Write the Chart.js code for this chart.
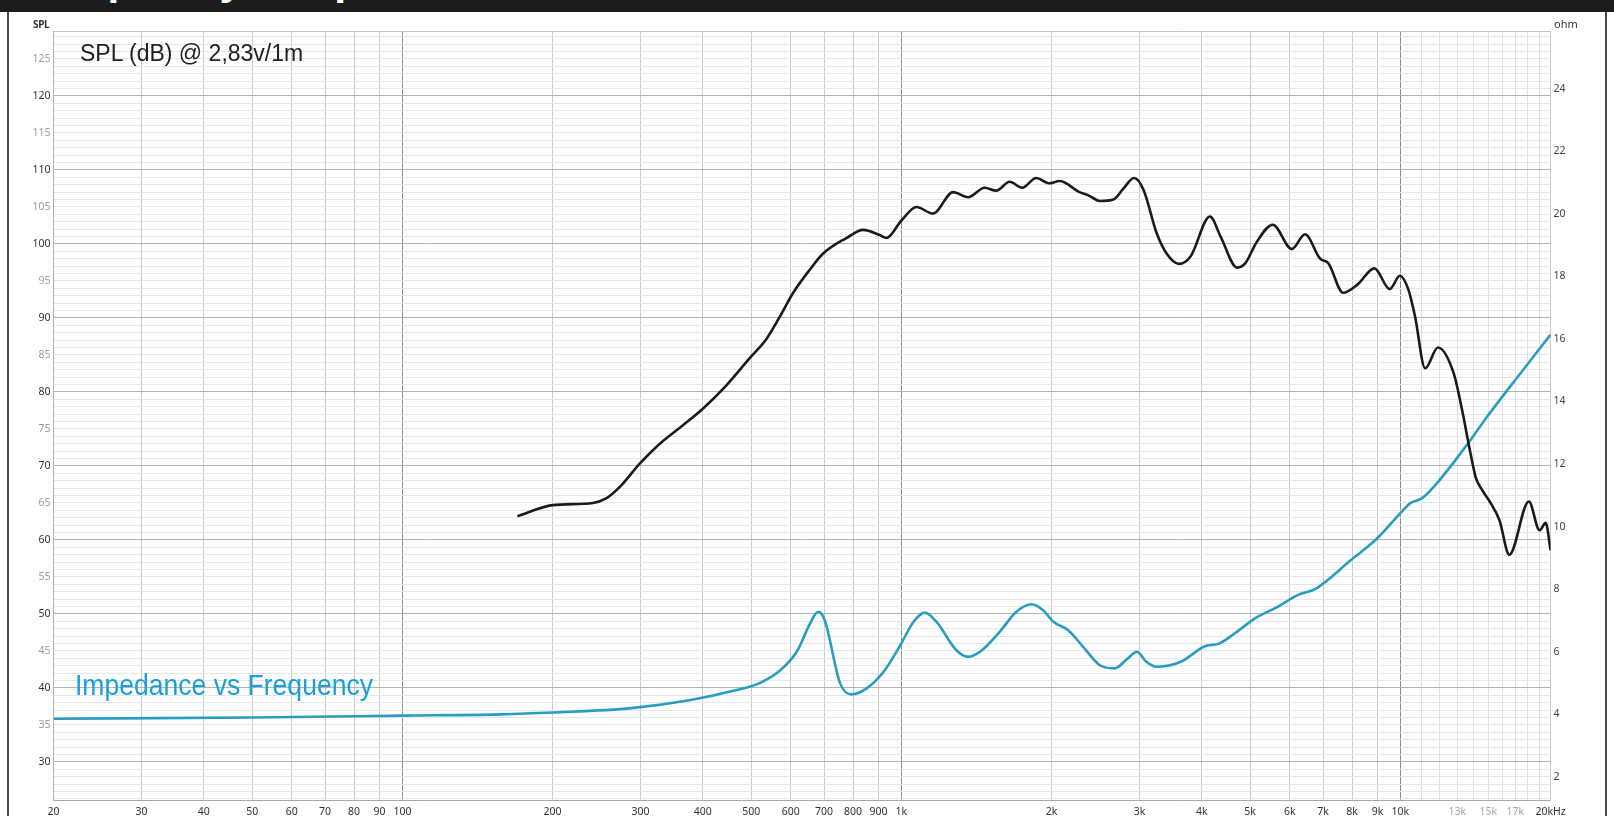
<!DOCTYPE html>
<html>
<head>
<meta charset="utf-8">
<script src="https://cdn.jsdelivr.net/npm/chart.js@4.4.1/dist/chart.umd.min.js"></script>
<style>
html, body { margin: 0; padding: 0; background: #fff; }
#wrap { position: relative; width: 1614px; height: 816px; overflow: hidden; }
#hdr { position: absolute; left: 0; top: 0; width: 1614px; height: 12px; background: #1c1c1c; overflow: hidden; }
#hdr span { position: absolute; left: 26px; top: -42px; font: bold 43px "Liberation Sans", Arial, sans-serif; line-height: 43px; color: #fff; white-space: nowrap; }
.edge { position: absolute; top: 12px; bottom: 0; width: 2px; background: #4a4a4a; }
canvas { position: absolute; left: 0; top: 0; }
.lbl { position: absolute; white-space: nowrap; line-height: 1; }
</style>
</head>
<body>
<div id="wrap">
  <canvas id="freqChart" width="1614" height="816"></canvas>
  <div id="hdr"><span>Frequency Response</span></div>
  <div class="edge" style="left:7px"></div>
  <div class="edge" style="left:1605px"></div>
  <div class="lbl" style="left:33px;top:17px;font:bold 10px 'Noto Sans';color:#333;letter-spacing:-0.3px">SPL</div>
  <div class="lbl" style="left:1554px;top:16px;font:11px 'Noto Sans';color:#333">ohm</div>
  <div class="lbl" style="left:80px;top:40px;font:23px 'Liberation Sans';color:#1e1e1e">SPL (dB) @ 2,83v/1m</div>
  <div class="lbl" style="left:75px;top:669px;font:29px 'Liberation Sans';color:#1a9fd9;transform:scaleX(0.915);transform-origin:0 0">Impedance vs Frequency</div>
</div>
<script>
// SPL (black) curve, left axis dB
var freqSpl = [170, 200, 241, 256, 273, 299, 328, 365, 401, 446, 497, 537, 571, 607, 655, 697, 776, 838, 905, 933,
  1001, 1072, 1157, 1269, 1360, 1469, 1549, 1648, 1746, 1863, 1976, 2075, 2275, 2365, 2500, 2660, 2787, 2926, 3057, 3250,
  3400, 3598, 3797, 4153, 4362, 4708, 4890, 5157, 5549, 6060, 6440, 6905, 7170, 7680, 8200, 8870, 9520, 9980, 10380, 10700,
  11210, 11890, 12790, 13290, 13820, 14150, 14600, 15190, 15790, 16530, 18090, 19010, 19550, 20000];
var spl = [63.2, 64.7, 65.0, 65.6, 67.2, 70.3, 73.0, 75.5, 77.8, 80.9, 84.6, 87.2, 90.2, 93.4, 96.5, 98.7, 100.8, 101.9, 101.2, 100.8,
  103.2, 105.0, 104.1, 107.0, 106.3, 107.6, 107.2, 108.4, 107.6, 108.9, 108.2, 108.5, 107.0, 106.6, 105.8, 106.0, 107.5, 108.9, 107.3, 101.4,
  98.7, 97.3, 98.3, 103.7, 101.0, 96.8, 97.4, 100.3, 102.6, 99.3, 101.3, 98.0, 97.4, 93.4, 94.5, 96.7, 93.9, 95.7, 93.8, 90.2,
  83.2, 86.0, 82.5, 77.6, 71.7, 68.5, 66.7, 64.9, 62.7, 58.0, 65.2, 61.3, 62.3, 58.6];

// impedance (blue) curve, right axis ohm
var freqImp = [20, 50, 100, 157, 200, 288, 376, 463, 520, 571, 617, 656, 681, 702, 754, 795, 852, 921, 995, 1058,
  1114, 1175, 1289, 1360, 1437, 1574, 1700, 1823, 1923, 2016, 2160, 2313, 2500, 2675, 2843, 2965, 3097, 3246, 3630, 4047,
  4345, 4667, 5140, 5650, 6220, 6790, 7960, 8990, 10000, 10470, 11050, 11840, 13600, 14930, 17440, 20000];
var imp = [3.86, 3.9, 3.96, 4.0, 4.06, 4.2, 4.45, 4.76, 5.0, 5.4, 6.0, 6.9, 7.28, 7.01, 4.99, 4.64, 4.83, 5.36, 6.21, 6.96,
  7.25, 6.96, 6.05, 5.84, 6.0, 6.64, 7.28, 7.52, 7.33, 6.96, 6.69, 6.16, 5.57, 5.47, 5.79, 6.0, 5.68, 5.52, 5.68, 6.17,
  6.27, 6.6, 7.09, 7.42, 7.81, 8.03, 8.93, 9.63, 10.43, 10.75, 10.91, 11.39, 12.62, 13.52, 14.92, 16.14];

// axes
var xTickValues = [20, 30, 40, 50, 60, 70, 80, 90, 100, 200, 300, 400, 500, 600, 700, 800, 900,
  1000, 2000, 3000, 4000, 5000, 6000, 7000, 8000, 9000, 10000,
  11000, 12000, 13000, 14000, 15000, 16000, 17000, 18000, 19000, 20000];
var xTickText = ["20", "30", "40", "50", "60", "70", "80", "90", "100", "200", "300", "400", "500", "600", "700", "800", "900",
  "1k", "2k", "3k", "4k", "5k", "6k", "7k", "8k", "9k", "10k",
  "", "", "13k", "", "15k", "", "17k", "", "", "20kHz"];
var splTicks = [30, 35, 40, 45, 50, 55, 60, 65, 70, 75, 80, 85, 90, 95, 100, 105, 110, 115, 120, 125];
var ohmTicks = [2, 4, 6, 8, 10, 12, 14, 16, 18, 20, 22, 24];

var splMin = 24.76, splMax = 128.68;
var ohmMin = 1.24, ohmMax = 25.82;

function toPoints(xs, ys) {
  return xs.map(function(f, i) { return {x: f, y: ys[i]}; });
}

var tickFont = {family: "Noto Sans", size: 10.5};

var ctx = document.getElementById("freqChart").getContext("2d");
var chart = new Chart(ctx, {
  type: "line",
  data: {
    datasets: [{
      label: "SPL",
      data: toPoints(freqSpl, spl),
      yAxisID: "y",
      borderColor: "#1b1b1b",
      borderWidth: 2.6,
      pointRadius: 0,
      cubicInterpolationMode: "monotone",
      fill: false
    }, {
      label: "Impedance",
      data: toPoints(freqImp, imp),
      yAxisID: "y1",
      borderColor: "#2a9cc2",
      borderWidth: 2.6,
      pointRadius: 0,
      cubicInterpolationMode: "monotone",
      fill: false
    }]
  },
  options: {
    responsive: false,
    animation: false,
    devicePixelRatio: 1,
    layout: {padding: {top: 31.7, left: 0, right: 0, bottom: 0}},
    plugins: {legend: {display: false}, tooltip: {enabled: false}},
    scales: {
      x: {
        type: "logarithmic",
        min: 20,
        max: 20000,
        afterBuildTicks: function(s) { s.ticks = xTickValues.map(function(v) { return {value: v}; }); },
        afterFit: function(s) { s.height = 15.3; },
        ticks: {
          autoSkip: false, maxRotation: 0, padding: 5, font: tickFont,
          callback: function(v) { return xTickText[xTickValues.indexOf(v)]; },
          color: function(c) {
            var v = c.tick.value;
            return (v == 13000 || v == 15000 || v == 17000) ? "#a8a8a8" : "#333";
          }
        },
        grid: {
          drawTicks: false,
          color: function(c) {
            var v = c.tick.value;
            if (v == 100 || v == 1000 || v == 10000) return "#8c8c8c";
            if (v > 10000 && v < 20000) return "#e0e0e0";
            return "#cacaca";
          }
        },
        border: {color: "#a8a8a8"}
      },
      y: {
        position: "left",
        min: splMin,
        max: splMax,
        afterBuildTicks: function(s) {
          var t = [];
          for (var v = 25; v <= 128; v++) t.push({value: v});
          t.push({value: splMax});
          s.ticks = t;
        },
        afterFit: function(s) { s.width = 53.6; },
        ticks: {
          autoSkip: false, padding: 3, font: tickFont,
          callback: function(v) { return splTicks.indexOf(v) >= 0 ? String(v) : ""; },
          color: function(c) { return c.tick.value % 10 == 0 ? "#333" : "#9c9c9c"; }
        },
        grid: {
          drawTicks: false,
          color: function(c) {
            var v = c.tick.value;
            if (v == splMax) return "#c4c4c4";
            return v % 10 == 0 ? "#b4b4b4" : "#e6e6e6";
          }
        },
        border: {color: "#b0b0b0"}
      },
      y1: {
        position: "right",
        min: ohmMin,
        max: ohmMax,
        afterBuildTicks: function(s) { s.ticks = ohmTicks.map(function(v) { return {value: v}; }); },
        afterFit: function(s) { s.width = 63.4; },
        ticks: {autoSkip: false, padding: 3, font: tickFont, color: "#444"},
        grid: {display: false, drawTicks: false},
        border: {color: "#cacaca"}
      }
    }
  }
});
</script>
</body>
</html>
